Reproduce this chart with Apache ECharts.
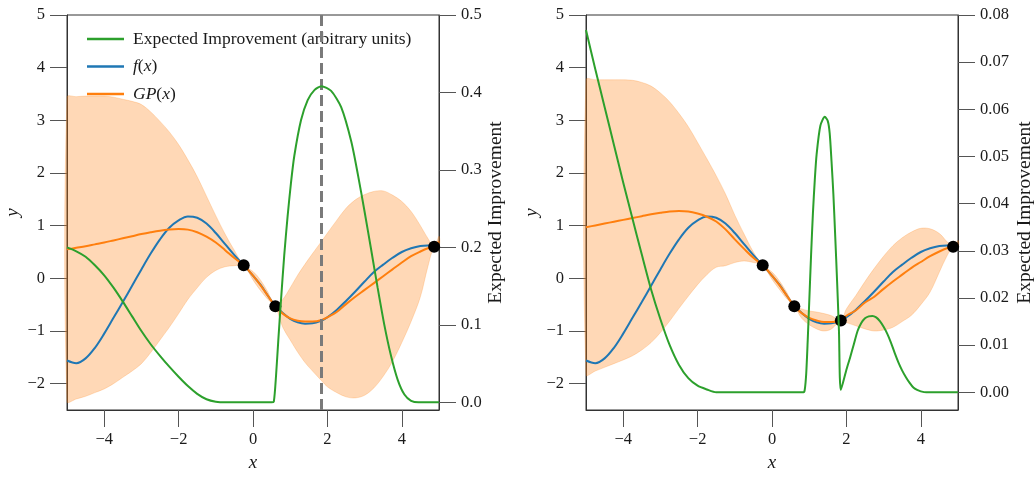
<!DOCTYPE html>
<html>
<head>
<meta charset="utf-8">
<title>Bayesian optimisation: GP fit and expected improvement</title>
<script src="https://cdn.jsdelivr.net/npm/echarts@6/dist/echarts.min.js"></script>
<style>
  html, body { margin: 0; padding: 0; background: #ffffff; }
  #chart { width: 1036px; height: 481px; }
</style>
</head>
<body>
<div id="chart"></div>
<script>
// ---- sample grid shared by f(x) and both GP fits ----
const xGrid = [-5, -4.75, -4.5, -4.25, -4, -3.75, -3.5, -3.25, -3, -2.75, -2.5, -2.25, -2, -1.75, -1.5, -1.25, -1, -0.75, -0.5, -0.25,
  0, 0.2, 0.4, 0.6, 0.8, 1.0, 1.2, 1.4, 1.6, 1.85, 2.0, 2.25, 2.5, 2.75, 3.0, 3.25, 3.5, 3.75, 4.0, 4.25, 4.5, 4.7, 4.87, 5.0];

// true objective f(x)
const fValues = [-1.56, -1.61, -1.52, -1.32, -1.05, -0.75, -0.45, -0.14, 0.17, 0.47, 0.74, 0.96, 1.10, 1.175, 1.15, 1.04, 0.86, 0.65, 0.44, 0.25,
  0.05, -0.12, -0.33, -0.52, -0.66, -0.77, -0.835, -0.86, -0.855, -0.80, -0.74, -0.60, -0.43, -0.25, -0.06, 0.12, 0.26, 0.39, 0.50, 0.57, 0.615, 0.625, 0.61, 0.59];

// GP posterior after three samples (left panel)
const gpMeanA = [0.55, 0.58, 0.61, 0.645, 0.68, 0.72, 0.76, 0.80, 0.84, 0.875, 0.905, 0.925, 0.935, 0.925, 0.875, 0.79, 0.68, 0.535, 0.385, 0.25,
  0.05, -0.13, -0.33, -0.53, -0.67, -0.76, -0.805, -0.82, -0.82, -0.79, -0.74, -0.64, -0.49, -0.35, -0.22, -0.09, 0.04, 0.17, 0.30, 0.42, 0.51, 0.57, 0.60, 0.70];
const gpUpperA = [3.44, 3.45, 3.46, 3.46, 3.46, 3.44, 3.40, 3.36, 3.30, 3.16, 2.98, 2.78, 2.54, 2.25, 1.93, 1.56, 1.19, 0.84, 0.53, 0.25,
  0.13, -0.03, -0.26, -0.53, -0.40, -0.18, 0.06, 0.27, 0.47, 0.71, 0.86, 1.10, 1.33, 1.49, 1.59, 1.65, 1.66, 1.58, 1.46, 1.27, 1.00, 0.76, 0.60, 0.80];
const gpLowerA = [-2.34, -2.29, -2.24, -2.17, -2.10, -2.00, -1.88, -1.76, -1.62, -1.41, -1.17, -0.93, -0.67, -0.40, -0.18, 0.02, 0.15, 0.22, 0.24, 0.25,
  -0.03, -0.23, -0.40, -0.53, -0.93, -1.17, -1.40, -1.60, -1.76, -1.95, -2.06, -2.17, -2.25, -2.27, -2.22, -2.08, -1.86, -1.58, -1.22, -0.82, -0.35, 0.22, 0.60, 0.60];

// GP posterior after four samples (right panel)
const gpMeanB = [0.97, 1.005, 1.04, 1.075, 1.11, 1.145, 1.18, 1.215, 1.245, 1.27, 1.28, 1.27, 1.23, 1.17, 1.08, 0.93, 0.74, 0.56, 0.39, 0.25,
  0.05, -0.13, -0.33, -0.53, -0.66, -0.75, -0.80, -0.83, -0.83, -0.80, -0.71, -0.61, -0.46, -0.35, -0.20, -0.06, 0.07, 0.20, 0.31, 0.42, 0.51, 0.57, 0.60, 0.66];
const gpUpperB = [3.77, 3.77, 3.77, 3.77, 3.77, 3.76, 3.72, 3.65, 3.52, 3.35, 3.13, 2.88, 2.58, 2.27, 1.95, 1.60, 1.20, 0.84, 0.50, 0.25,
  0.12, -0.05, -0.27, -0.53, -0.58, -0.62, -0.64, -0.67, -0.71, -0.80, -0.58, -0.33, -0.06, 0.19, 0.42, 0.62, 0.77, 0.88, 0.95, 0.94, 0.85, 0.70, 0.60, 0.72];
const gpLowerB = [-1.83, -1.76, -1.69, -1.62, -1.55, -1.47, -1.36, -1.22, -1.03, -0.81, -0.57, -0.34, -0.12, 0.07, 0.21, 0.24, 0.30, 0.33, 0.30, 0.25,
  -0.02, -0.21, -0.39, -0.53, -0.76, -0.88, -0.96, -1.00, -0.96, -0.80, -0.84, -0.90, -0.96, -1.00, -0.98, -0.93, -0.82, -0.70, -0.50, -0.26, 0.12, 0.42, 0.60, 0.60];

// expected improvement, left panel
const eiXA = [-5, -4.75, -4.5, -4.25, -4, -3.75, -3.5, -3.25, -3, -2.75, -2.5, -2.25, -2, -1.75, -1.5, -1.25, -1, -0.75, 0, 0.5,
  0.56, 0.62, 0.68, 0.75, 0.84, 0.93, 1.02, 1.11, 1.29, 1.47, 1.65, 1.84, 2.1, 2.37, 2.64, 2.82, 3.0, 3.18, 3.35, 3.53, 3.71, 3.89, 4.07, 4.25, 4.45, 5];
const eiA = [0.200, 0.195, 0.188, 0.177, 0.164, 0.148, 0.130, 0.111, 0.092, 0.075, 0.060, 0.046, 0.033, 0.021, 0.011, 0.004, 0.0008, 0, 0, 0,
  0.001, 0.035, 0.08, 0.13, 0.19, 0.24, 0.283, 0.318, 0.364, 0.39, 0.403, 0.408, 0.402, 0.381, 0.337, 0.294, 0.246, 0.196, 0.148, 0.100, 0.060, 0.029, 0.010, 0.002, 0, 0];

// expected improvement, right panel
const eiXB = [-5, -4.75, -4.5, -4.25, -4, -3.75, -3.5, -3.25, -3, -2.75, -2.5, -2.25, -2, -1.75, -1.5, 0, 0.85, 0.88, 0.92, 0.96,
  1.0, 1.05, 1.1, 1.15, 1.2, 1.3, 1.42, 1.5, 1.55, 1.6, 1.65, 1.7, 1.75, 1.8, 1.85, 2.0, 2.1, 2.2, 2.3, 2.4,
  2.5, 2.6, 2.7, 2.8, 2.9, 3.0, 3.1, 3.2, 3.3, 3.4, 3.5, 3.6, 3.7, 3.8, 3.9, 4.0, 4.15, 5];
const eiB = [0.0768, 0.0685, 0.0605, 0.0525, 0.0445, 0.0368, 0.0292, 0.0218, 0.0155, 0.0100, 0.0058, 0.0030, 0.0014, 0.0006, 0, 0, 0, 0.0005, 0.004, 0.011,
  0.019, 0.029, 0.038, 0.045, 0.0505, 0.0565, 0.0584, 0.0575, 0.055, 0.049, 0.042, 0.033, 0.0235, 0.013, 0.0005, 0.0048, 0.0074, 0.0102, 0.0130, 0.0147,
  0.0157, 0.0161, 0.0162, 0.0159, 0.0151, 0.0139, 0.0124, 0.0105, 0.0083, 0.0063, 0.0046, 0.0032, 0.0020, 0.0010, 0.0005, 0.0002, 0, 0];

// observed samples
const obsXA = [-0.25, 0.6, 4.87];
const obsYA = [0.25, -0.53, 0.60];
const obsXB = [-0.25, 0.6, 1.85, 4.87];
const obsYB = [0.25, -0.53, -0.80, 0.60];
// next sample proposed by EI (left panel)
const nextXA = [1.84];

// ticks
const xTicks = [-4, -2, 0, 2, 4];
const yTicks = [-2, -1, 0, 1, 2, 3, 4, 5];
const eiTicksA = [0, 0.1, 0.2, 0.3, 0.4, 0.5];
const eiTicksB = [0, 0.01, 0.02, 0.03, 0.04, 0.05, 0.06, 0.07, 0.08];

// ---- styling ----
const FONT = 'Liberation Serif';
const C_BLUE = '#1f77b4', C_ORANGE = '#ff7f0e', C_GREEN = '#2ca02c';
const AXIS_COLOR = '#333333';
const TICK_COLOR = '#555555';
const LABEL_COLOR = '#1a1a1a';
const EI_NAME = 'Expected Improvement (arbitrary units)';

const pairs = (xs, ys) => xs.map((x, i) => [x, ys[i]]);
const signed = v => (v < 0 ? '\u2212' + Math.abs(v) : String(v));

function xAxisFor(gridIndex) {
  return {
    type: 'value', gridIndex, min: -5, max: 5,
    name: 'x', nameLocation: 'middle', nameGap: 43,
    nameTextStyle: { fontFamily: FONT, fontStyle: 'italic', fontSize: 19, color: LABEL_COLOR },
    axisLine: { show: true, onZero: false, lineStyle: { color: AXIS_COLOR, width: 1 } },
    axisTick: { show: true, length: 17, customValues: xTicks, lineStyle: { color: TICK_COLOR, width: 1 } },
    axisLabel: { customValues: xTicks, margin: 21, formatter: signed, fontFamily: FONT, fontSize: 16.5, color: LABEL_COLOR },
    splitLine: { show: false }
  };
}
function yAxisFor(gridIndex) {
  return {
    type: 'value', gridIndex, position: 'left', min: -2.5, max: 5,
    name: 'y', nameLocation: 'middle', nameGap: 45, nameRotate: 90,
    nameTextStyle: { fontFamily: FONT, fontStyle: 'italic', fontSize: 19, color: LABEL_COLOR },
    axisLine: { show: true, onZero: false, lineStyle: { color: AXIS_COLOR, width: 1 } },
    axisTick: { show: true, length: 17, customValues: yTicks, lineStyle: { color: TICK_COLOR, width: 1 } },
    axisLabel: { customValues: yTicks, margin: 22, formatter: signed, fontFamily: FONT, fontSize: 16.5, color: LABEL_COLOR },
    splitLine: { show: false }
  };
}
function eiAxisFor(gridIndex, min, max, ticks, digits, gap) {
  return {
    type: 'value', gridIndex, position: 'right', min, max,
    name: 'Expected Improvement', nameLocation: 'middle', nameGap: gap, nameRotate: 90,
    nameTextStyle: { fontFamily: FONT, fontSize: 19.5, color: LABEL_COLOR },
    axisLine: { show: true, onZero: false, lineStyle: { color: AXIS_COLOR, width: 1 } },
    axisTick: { show: true, length: 17, customValues: ticks, lineStyle: { color: TICK_COLOR, width: 1 } },
    axisLabel: { customValues: ticks, margin: 22, formatter: v => v.toFixed(digits), fontFamily: FONT, fontSize: 16.5, color: LABEL_COLOR },
    splitLine: { show: false }
  };
}

// 2-sigma band drawn as one smoothed polygon through the axis scales
function bandSeries(p) {
  return {
    type: 'custom', name: 'band-' + p.id, xAxisIndex: p.grid, yAxisIndex: p.yAxis,
    data: xGrid.map((x, i) => [x, p.lower[i], p.upper[i]]),
    encode: { x: 0, y: [1, 2] },
    silent: true, z: 1,
    renderItem: (params, api) => {
      if (params.dataIndex !== 0) return null;
      const top = [], bottom = [];
      for (let i = 0; i < xGrid.length; i++) {
        top.push(api.coord([xGrid[i], p.upper[i]]));
        bottom.push(api.coord([xGrid[i], p.lower[i]]));
      }
      const pts = top.concat(bottom.reverse());
      return {
        type: 'polygon',
        shape: { points: pts, smooth: 0.35 },
        style: { fill: 'rgba(255,127,14,0.30)', stroke: 'rgba(255,127,14,0.22)', lineWidth: 1 }
      };
    }
  };
}

function panelSeries(p) {
  const list = [
    bandSeries(p),
    {
      type: 'line', name: 'f(x)', xAxisIndex: p.grid, yAxisIndex: p.yAxis,
      data: pairs(xGrid, fValues), smooth: 0.35, symbol: 'none',
      lineStyle: { color: C_BLUE, width: 2 }, itemStyle: { color: C_BLUE }, z: 2
    },
    {
      type: 'line', name: 'GP(x)', xAxisIndex: p.grid, yAxisIndex: p.yAxis,
      data: pairs(xGrid, p.mean), smooth: 0.35, symbol: 'none',
      lineStyle: { color: C_ORANGE, width: 2 }, itemStyle: { color: C_ORANGE }, z: 3
    },
    {
      type: 'scatter', name: 'samples-' + p.id, xAxisIndex: p.grid, yAxisIndex: p.yAxis,
      data: pairs(p.obsX, p.obsY), symbolSize: 12, itemStyle: { color: '#000000', opacity: 1 }, z: 4
    },
    {
      type: 'line', name: EI_NAME, xAxisIndex: p.grid, yAxisIndex: p.eiAxis,
      data: pairs(p.eiX, p.ei), smooth: 0.25, symbol: 'none',
      lineStyle: { color: C_GREEN, width: 2 }, itemStyle: { color: C_GREEN }, z: 5
    }
  ];
  if (p.next) {
    list.push({
      type: 'line', name: 'next-' + p.id, xAxisIndex: p.grid, yAxisIndex: p.eiAxis,
      data: [], z: 6, silent: true,
      markLine: {
        symbol: 'none', silent: true, animation: false,
        label: { show: false },
        lineStyle: { color: '#7a7a7a', width: 3, type: [11, 5], opacity: 1 },
        data: p.next.map(x => ({ xAxis: x }))
      }
    });
  }
  return list;
}

const gridBase = { top: 15, width: 372, height: 395, show: true, borderColor: AXIS_COLOR, borderWidth: 1,
  backgroundColor: 'transparent', containLabel: false, outerBoundsMode: 'none' };

const chart = echarts.init(document.getElementById('chart'), null, { renderer: 'canvas' });
chart.setOption({
  animation: false,
  backgroundColor: '#ffffff',
  textStyle: { fontFamily: FONT },
  grid: [
    Object.assign({ left: 67 }, gridBase),
    Object.assign({ left: 586 }, gridBase)
  ],
  xAxis: [xAxisFor(0), xAxisFor(1)],
  yAxis: [
    yAxisFor(0),
    eiAxisFor(0, -0.0099, 0.5, eiTicksA, 1, 45),
    yAxisFor(1),
    eiAxisFor(1, -0.00375, 0.08, eiTicksB, 2, 57)
  ],
  legend: {
    show: true, orient: 'vertical', left: 82, top: 25,
    itemWidth: 37, itemHeight: 2.5, itemGap: 9.5,
    icon: 'rect',
    data: [EI_NAME, 'f(x)', 'GP(x)'],
    selectedMode: false,
    formatter: name => {
      if (name === 'f(x)') return '{m|f}({m|x})';
      if (name === 'GP(x)') return '{m|GP}({m|x})';
      return name;
    },
    textStyle: {
      fontFamily: FONT, fontSize: 17.5, color: LABEL_COLOR, lineHeight: 18, padding: [0, 0, 0, 4],
      rich: { m: { fontFamily: FONT, fontStyle: 'italic', fontSize: 17.5, color: LABEL_COLOR } }
    }
  },
  series: [
    ...panelSeries({ id: 'A', grid: 0, yAxis: 0, eiAxis: 1, mean: gpMeanA, upper: gpUpperA, lower: gpLowerA,
      obsX: obsXA, obsY: obsYA, eiX: eiXA, ei: eiA, next: nextXA }),
    ...panelSeries({ id: 'B', grid: 1, yAxis: 2, eiAxis: 3, mean: gpMeanB, upper: gpUpperB, lower: gpLowerB,
      obsX: obsXB, obsY: obsYB, eiX: eiXB, ei: eiB, next: null })
  ]
});
</script>
</body>
</html>
